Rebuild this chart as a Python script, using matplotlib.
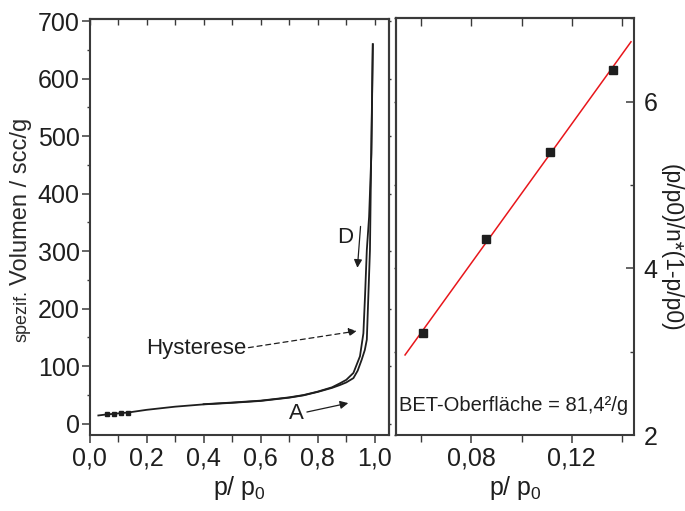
import numpy as np
import matplotlib
matplotlib.use("Agg")
import matplotlib.pyplot as plt
from matplotlib.ticker import MultipleLocator, FuncFormatter, FixedLocator

plt.rcParams['font.family'] = ['Liberation Sans', 'DejaVu Sans']
plt.rcParams['mathtext.fontset'] = 'custom'
plt.rcParams['mathtext.rm'] = 'Liberation Sans'
plt.rcParams['mathtext.it'] = 'Liberation Sans:italic'
plt.rcParams['mathtext.bf'] = 'Liberation Sans:bold'

# Nitrogen isotherm: adsorption branch
p_ads = [0.031, 0.058, 0.087, 0.111, 0.135, 0.20, 0.30, 0.40, 0.50, 0.60,
         0.70, 0.75, 0.80, 0.85, 0.878, 0.90, 0.925, 0.94, 0.954, 0.965,
         0.972, 0.983, 0.987, 0.993]
v_ads = [14.0, 15.7, 16.9, 18.1, 19.1, 23.8, 29.3, 33.3, 36.0, 39.3,
         45.0, 49.0, 55.0, 62.0, 67.0, 71.5, 79.0, 92.0, 111.0, 128.0,
         146.0, 302.0, 453.0, 660.0]

# Desorption branch
p_des = [0.993, 0.988, 0.980, 0.972, 0.966, 0.960, 0.948, 0.925, 0.90,
         0.878, 0.85, 0.80, 0.75, 0.70, 0.60, 0.50, 0.40]
v_des = [660.0, 470.0, 360.0, 302.0, 225.0, 157.0, 117.0, 88.0, 76.0,
         70.0, 63.0, 55.5, 49.5, 45.5, 39.8, 36.5, 33.6]

# Points used for the BET evaluation
p_bet = [0.0607, 0.0859, 0.1112, 0.1363]
v_bet = [15.7, 16.9, 18.1, 19.1]
bet_y = [3.22, 4.35, 5.40, 6.38]

left_xticks = [0.0, 0.2, 0.4, 0.6, 0.8, 1.0]
left_yticks = [0, 100, 200, 300, 400, 500, 600, 700]
right_xticks = [0.08, 0.12]
right_yticks = [2, 4, 6]

ink = '#1e1e1e'
spine_c = '#3a3a3a'
TICK_FS = 18

fig = plt.figure(figsize=(6.85, 5.11), dpi=100)

def comma(fmt):
    return FuncFormatter(lambda v, pos: format(v, fmt).replace('.', ','))

# ---------------- isotherm panel ----------------
ax = fig.add_axes([89.5/685, 1-435/511, (388.5-89.5)/685, (435-19)/511])
ax.plot(p_ads, v_ads, color=ink, lw=1.3)
ax.plot(p_des, v_des, color=ink, lw=1.3)
ax.plot(p_bet, v_bet, 's', color=ink, ms=3)
ax.set_xlim(0, 1.048)
ax.set_ylim(-20, 704)
ax.xaxis.set_major_locator(FixedLocator(left_xticks))
ax.xaxis.set_minor_locator(MultipleLocator(0.1))
ax.yaxis.set_major_locator(FixedLocator(left_yticks))
ax.yaxis.set_minor_locator(MultipleLocator(50))
ax.xaxis.set_major_formatter(comma('.1f'))
ax.tick_params(axis='both', which='major', direction='out', length=6,
               width=1.1, labelsize=TICK_FS, colors=spine_c, labelcolor=ink, pad=2)
ax.tick_params(axis='x', which='minor', direction='out', length=5, width=1.0,
               colors=spine_c)
ax.tick_params(axis='y', which='minor', direction='out', length=2, width=1.0,
               colors=spine_c)
ax.tick_params(axis='y', which='major', pad=1)
for s in ax.spines.values():
    s.set_linewidth(1.5)
    s.set_color(spine_c)

top = ax.secondary_xaxis('top')
top.xaxis.set_major_locator(MultipleLocator(0.1))
top.tick_params(direction='in', length=4, width=1.0, labeltop=False, colors=spine_c)
top.spines['top'].set_linewidth(1.5)
top.spines['top'].set_color(spine_c)
rgt = ax.secondary_yaxis('right')
rgt.yaxis.set_major_locator(MultipleLocator(100))
rgt.tick_params(direction='out', length=1.5, width=1.0, labelright=False, colors=spine_c)
rgt.spines['right'].set_linewidth(1.5)
rgt.spines['right'].set_color(spine_c)

ax.set_xlabel(r'p/ p$_\mathregular{0}$', fontsize=TICK_FS, color=ink, labelpad=3)

fig.text(27/685, 1-285/511, 'Volumen / scc/g', rotation=90, rotation_mode='anchor',
         ha='left', va='baseline', fontsize=17, color='#2a2a2a')
fig.text(27/685, 1-290/511, 'spezif.', rotation=90, rotation_mode='anchor',
         ha='right', va='baseline', fontsize=13, color='#2a2a2a')

ax.text(0.896, 323, 'D', fontsize=16, color=ink, ha='center', va='center')
ax.annotate('', xy=(0.939, 271), xytext=(0.950, 343),
            arrowprops=dict(arrowstyle='-|>', color=ink, lw=0.9,
                            mutation_scale=12, shrinkA=0, shrinkB=0))
ax.text(0.374, 131, 'Hysterese', fontsize=16, color=ink, ha='center', va='center')
ax.annotate('', xy=(0.937, 161), xytext=(0.557, 132),
            arrowprops=dict(arrowstyle='-|>', color=ink, lw=0.9, ls=(0, (4, 3)),
                            mutation_scale=12, shrinkA=0, shrinkB=0))
ax.text(0.724, 17, 'A', fontsize=16, color=ink, ha='center', va='center')
ax.annotate('', xy=(0.907, 35.5), xytext=(0.762, 20),
            arrowprops=dict(arrowstyle='-|>', color=ink, lw=0.9,
                            mutation_scale=12, shrinkA=0, shrinkB=0))

# ---------------- BET panel ----------------
bx = fig.add_axes([396/685, 1-435/511, (634-396)/685, (435-18.5)/511])
slope, icpt = np.polyfit(p_bet, bet_y, 1)
xfit = np.array([0.0536, 0.1436])
bx.plot(xfit, slope*xfit + icpt, color='#e8161b', lw=1.1)
bx.plot(p_bet, bet_y, 's', color=ink, ms=5.5)
bx.set_xlim(0.05, 0.1448)
bx.set_ylim(2, 7.0)
bx.yaxis.tick_right()
bx.xaxis.set_major_locator(FixedLocator(right_xticks))
bx.xaxis.set_minor_locator(FixedLocator([0.06, 0.10, 0.14]))
bx.yaxis.set_major_locator(FixedLocator(right_yticks))
bx.yaxis.set_minor_locator(FixedLocator([3, 5, 7]))
bx.xaxis.set_major_formatter(comma('.2f'))
bx.tick_params(axis='x', which='major', direction='out', length=6, width=1.1,
               labelsize=TICK_FS, colors=spine_c, labelcolor=ink, pad=2)
bx.tick_params(axis='x', which='minor', direction='out', length=5, width=1.0,
               colors=spine_c)
bx.tick_params(axis='y', which='major', direction='in', length=6, width=1.1,
               labelsize=TICK_FS, colors=spine_c, labelcolor=ink, pad=7)
bx.tick_params(axis='y', which='minor', direction='in', length=3, width=1.0,
               colors=spine_c)
for s in bx.spines.values():
    s.set_linewidth(1.5)
    s.set_color(spine_c)

btop = bx.secondary_xaxis('top')
btop.xaxis.set_major_locator(MultipleLocator(0.02))
btop.tick_params(direction='in', length=6, width=1.0, labeltop=False, colors=spine_c)
btop.spines['top'].set_linewidth(1.5)
btop.spines['top'].set_color(spine_c)
blft = bx.secondary_yaxis('left')
blft.yaxis.set_major_locator(MultipleLocator(1))
blft.tick_params(direction='out', length=1.5, width=1.0, labelleft=False, colors=spine_c)
blft.spines['left'].set_linewidth(1.5)
blft.spines['left'].set_color(spine_c)

bx.set_xlabel(r'p/ p$_\mathregular{0}$', fontsize=TICK_FS, color=ink, labelpad=3)
fig.text(671/685, 1-248/511, '(p/p0)/n*(1-p/p0)', rotation=270,
         ha='center', va='center', fontsize=16.5, color=ink)

bx.text(0.0968, 2.36, 'BET-Oberfläche = 81,4²/g', fontsize=14.5, color=ink,
        ha='center', va='center')

fig.savefig('out.png', dpi=100)
